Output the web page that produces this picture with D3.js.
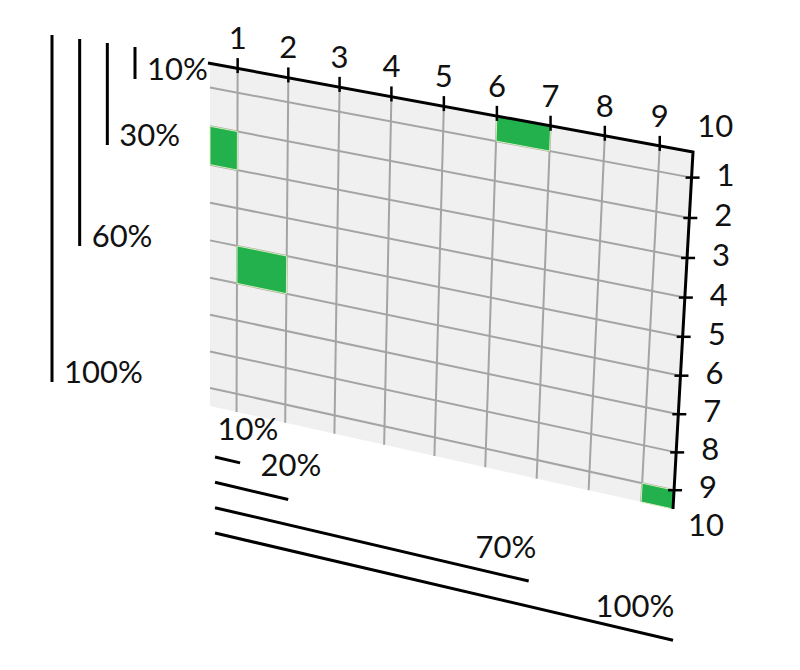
<!DOCTYPE html>
<html>
<head>
<meta charset="utf-8">
<script src="https://cdn.jsdelivr.net/npm/d3@7"></script>
<style>
  html, body { margin: 0; padding: 0; background: #ffffff; }
  svg { display: block; }
  text { font-family: Lato, "Open Sans", sans-serif; fill: #111; }
</style>
</head>
<body>
<div id="chart"></div>
<script>
// ---------- data ----------
const xLabels = ["1", "2", "3", "4", "5", "6", "7", "8", "9", "10"];
const yLabels = ["1", "2", "3", "4", "5", "6", "7", "8", "9", "10"];
const xTicks = [1, 2, 3, 4, 5, 6, 7, 8, 9];
const yTicks = [1, 2, 3, 4, 5, 6, 7, 8, 9];
const cellCols = [1, 7, 2, 10];
const cellRows = [3, 1, 6, 10];
const leftLegendPct = [10, 30, 60, 100];
const bottomLegendPct = [10, 20, 70, 100];

// ---------- layout ----------
const W = 800, H = 670, FS = 31;
const svg = d3.select("#chart").append("svg").attr("width", W).attr("height", H);
svg.append("rect").attr("width", W).attr("height", H).attr("fill", "#ffffff");

// local (data) scales
const xDom = [0.45, 9.6], yDom = [0.37, 9.5];
const sx = d3.scaleLinear().domain(xDom).range([0, 1]);
const sy = d3.scaleLinear().domain(yDom).range([0, 1]);

// perspective plane: unit square -> quad
const Q = [[210, 63], [693, 152], [673, 509], [210, 406]];
const hom = (function () {
  const [x0, y0] = Q[0], [x1, y1] = Q[1], [x2, y2] = Q[2], [x3, y3] = Q[3];
  const dx1 = x1 - x2, dx2 = x3 - x2, dx3 = x0 - x1 + x2 - x3;
  const dy1 = y1 - y2, dy2 = y3 - y2, dy3 = y0 - y1 + y2 - y3;
  const det = dx1 * dy2 - dx2 * dy1;
  const g = (dx3 * dy2 - dx2 * dy3) / det;
  const h = (dx1 * dy3 - dx3 * dy1) / det;
  const a = x1 - x0 + g * x1, b = x3 - x0 + h * x3, c = x0;
  const d = y1 - y0 + g * y1, e = y3 - y0 + h * y3, f = y0;
  return (s, t) => {
    const w = g * s + h * t + 1;
    return [(a * s + b * t + c) / w, (d * s + e * t + f) / w];
  };
})();
const P = (u, v) => hom(sx(u), sy(v));
const line = d3.line();
const quad = (u0, v0, u1, v1) => line([P(u0, v0), P(u1, v0), P(u1, v1), P(u0, v1)]) + "Z";

const plane = svg.append("g");

// background
plane.append("path")
  .attr("d", quad(xDom[0], yDom[0], xDom[1], yDom[1]))
  .attr("fill", "#f0f0f0");

// gridlines
plane.selectAll("path.gx").data(xTicks).join("path")
  .attr("class", "gx")
  .attr("d", d => line([P(d, yDom[0]), P(d, yDom[1])]))
  .attr("stroke", "#a4a4a4").attr("stroke-width", 2).attr("fill", "none");
plane.selectAll("path.gy").data(yTicks).join("path")
  .attr("class", "gy")
  .attr("d", d => line([P(xDom[0], d), P(xDom[1], d)]))
  .attr("stroke", "#a4a4a4").attr("stroke-width", 2).attr("fill", "none");

// cells
const cells = cellCols.map((c, i) => ({ col: c, row: cellRows[i] }));
plane.selectAll("path.cell").data(cells).join("path")
  .attr("class", "cell")
  .attr("d", d => quad(Math.max(d.col - 1, xDom[0]), Math.max(d.row - 1, yDom[0]),
                       Math.min(d.col, xDom[1]), Math.min(d.row, yDom[1])))
  .attr("fill", "#22b14c")
  .attr("stroke", "#d6efb8").attr("stroke-width", 1);

// axes lines (top and right)
plane.append("path")
  .attr("d", line([[P(xDom[0], yDom[0])[0] - 2, P(xDom[0], yDom[0])[1]], P(xDom[1], yDom[0]), P(xDom[1], yDom[1])]))
  .attr("fill", "none").attr("stroke", "#000").attr("stroke-width", 3)
  .attr("stroke-linejoin", "miter");

// top ticks
plane.selectAll("path.tx").data(xTicks).join("path")
  .attr("class", "tx")
  .attr("d", d => { const [x, y] = P(d, yDom[0]); return line([[x, y - 10], [x, y + 5]]); })
  .attr("stroke", "#000").attr("stroke-width", 2.5);
// right ticks
plane.selectAll("path.ty").data(yTicks).join("path")
  .attr("class", "ty")
  .attr("d", d => { const [x, y] = P(xDom[1], d); return line([[x - 6, y], [x + 8, y]]); })
  .attr("stroke", "#000").attr("stroke-width", 2.5);

// top labels
svg.selectAll("text.lx").data(xLabels).join("text")
  .attr("class", "lx")
  .attr("x", (d, i) => P(i + 1, yDom[0])[0])
  .attr("y", (d, i) => P(i + 1, yDom[0])[1] - 31)
  .attr("text-anchor", "middle").attr("dominant-baseline", "central")
  .attr("font-size", FS)
  .text(d => d);
// right labels
svg.selectAll("text.ly").data(yLabels).join("text")
  .attr("class", "ly")
  .attr("x", (d, i) => P(xDom[1], i + 1)[0] + 34)
  .attr("y", (d, i) => P(xDom[1], i + 1)[1] - 4)
  .attr("text-anchor", "middle").attr("dominant-baseline", "central")
  .attr("font-size", FS)
  .text(d => d);

// ---------- left legend (vertical lines) ----------
const vLen = d3.scaleLinear().domain([0, 100]).range([-3, 347]);
const vX = d3.scaleLinear().domain([0, 3]).range([135, 52]);
const vTop = d3.scaleLinear().domain([0, 3]).range([47, 35]);
const lg = svg.append("g");
leftLegendPct.forEach((p, i) => {
  const x = vX(i), t = vTop(i), b = t + vLen(p);
  lg.append("line").attr("x1", x).attr("x2", x).attr("y1", t).attr("y2", b)
    .attr("stroke", "#000").attr("stroke-width", 3);
  lg.append("text").attr("x", x + 12).attr("y", b - 11)
    .attr("dominant-baseline", "central").attr("font-size", FS)
    .text(p + "%");
});

// ---------- bottom legend (slanted lines) ----------
const hLen = d3.scaleLinear().domain([0, 100]).range([-23, 458]);
const hStartY = d3.scaleLinear().domain([0, 3]).range([457, 533]);
const hLabelX = d3.scaleLinear().domain([0, 100]).range([205, 635]);
const slope = 0.234, hStartX = 215;
const bg = svg.append("g");
bottomLegendPct.forEach((p, i) => {
  const x0 = hStartX, y0 = hStartY(i);
  const L = hLen(p);
  const x1 = x0 + L, y1 = y0 + slope * L;
  bg.append("line").attr("x1", x0).attr("y1", y0).attr("x2", x1).attr("y2", y1)
    .attr("stroke", "#000").attr("stroke-width", 3);
  bg.append("text").attr("x", hLabelX(p)).attr("y", y1 - 35)
    .attr("text-anchor", "middle").attr("dominant-baseline", "central")
    .attr("font-size", FS)
    .text(p + "%");
});
</script>
</body>
</html>
